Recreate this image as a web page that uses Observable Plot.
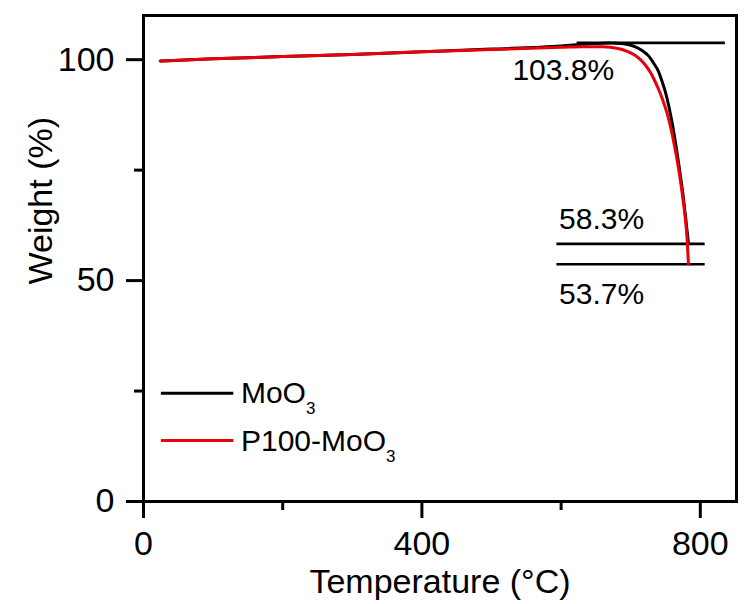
<!DOCTYPE html>
<html>
<head>
<meta charset="utf-8">
<script src="https://cdn.jsdelivr.net/npm/d3@7"></script>
<script src="https://cdn.jsdelivr.net/npm/@observablehq/plot@0.6"></script>
<style>
  html, body { margin: 0; padding: 0; background: #fff; }
  #chart svg { display: block; }
</style>
</head>
<body>
<div id="chart"></div>
<script>
// ---- data ----
const seriesNames = ["MoO3", "P100-MoO3"];
const seriesColors = ["#000000", "#e8000b"];

const moo3Temp = [24,100,200,300,400,500,600,640,670,690,705,718,726,733,740,745,750,755,760,765,770,775,779,783];
const moo3Weight = [99.7,100.2,100.7,101.2,101.8,102.4,103.1,103.6,103.8,103.6,103.0,101.9,100.8,99.2,97.3,95.1,92.6,89.3,85.3,80.6,75.3,69.6,64.2,58.3];

const p100Temp = [24,100,200,300,400,500,600,630,660,680,695,705,714,721,728,734,740,746,752,758,764,769,773,777,780.5,783];
const p100Weight = [99.7,100.2,100.7,101.2,101.8,102.3,102.8,102.95,102.9,102.6,101.9,101.1,100.0,98.8,97.2,95.4,93.3,90.9,88.0,84.3,79.6,75.1,70.9,66.0,60.5,53.7];

// reference levels (weight %) and their temperature spans
const refLevels = [103.8, 58.3, 53.7];
const refStart = [623, 594, 594];
const refEnd = [836, 807, 807];
const refLabels = ["103.8%", "58.3%", "53.7%"];
const refLabelTemp = [530, 597, 597];
const refLabelWeight = [95.5, 61.6, 44.8];

const xMajorTicks = [0, 400, 800];
const xMinorTicks = [200, 600];
const yMajorTicks = [0, 50, 100];
const yMinorTicks = [25, 75];

const xLabel = "Temperature (°C)";
const yLabel = "Weight (%)";

// ---- build tables ----
const moo3 = moo3Temp.map((t, i) => ({T: t, W: moo3Weight[i]}));
const p100 = p100Temp.map((t, i) => ({T: t, W: p100Weight[i]}));
const refs = refLevels.map((v, i) => ({v, x1: refStart[i], x2: refEnd[i]}));
const refText = refLabels.map((s, i) => ({s, T: refLabelTemp[i], W: refLabelWeight[i]}));
const legend = seriesNames.map((name, i) => ({name, color: seriesColors[i], i}));

const FONT = "Liberation Sans, Arial, Helvetica, sans-serif";

const chart = Plot.plot({
  width: 752,
  height: 604,
  marginLeft: 143,
  marginRight: 16,
  marginTop: 15,
  marginBottom: 103,
  style: {fontFamily: FONT, color: "#000", background: "#fff", overflow: "visible"},
  x: {domain: [0, 852], axis: null},
  y: {domain: [0, 110], axis: null},
  marks: [
    // reference lines
    Plot.ruleY(refs, {y: "v", x1: "x1", x2: "x2", stroke: "#000", strokeWidth: 2.6}),
    // curves
    Plot.line(moo3, {x: "T", y: "W", stroke: seriesColors[0], strokeWidth: 3, curve: "monotone-x"}),
    Plot.line(p100, {x: "T", y: "W", stroke: seriesColors[1], strokeWidth: 3, curve: "monotone-x"}),
    // annotations
    Plot.text(refText, {x: "T", y: "W", text: "s", textAnchor: "start", lineAnchor: "bottom", fontSize: 30, fill: "#000"}),
    // legend
    Plot.link(legend, {x1: () => 25, x2: () => 129, y1: d => d.i === 0 ? 24.5 : 13.8, y2: d => d.i === 0 ? 24.5 : 13.8, stroke: "color", strokeWidth: 3}),
    Plot.text(legend, {x: () => 140, y: d => d.i === 0 ? 22.2 : 11.4, text: "name", textAnchor: "start", lineAnchor: "bottom", fontSize: 30, fill: "#000"}),
    // axes
    Plot.axisX({ticks: xMajorTicks, tickSize: 17, tickPadding: 12, strokeWidth: 3, fontSize: 34, label: null, tickFormat: d => String(d)}),
    Plot.axisX({ticks: xMinorTicks, tickSize: 9, strokeWidth: 3, text: null, label: null}),
    Plot.axisY({ticks: yMajorTicks, tickSize: 17, tickPadding: 12, strokeWidth: 3, fontSize: 34, label: null, tickFormat: d => String(d)}),
    Plot.axisY({ticks: yMinorTicks, tickSize: 9, strokeWidth: 3, text: null, label: null}),
    Plot.frame({stroke: "#000", strokeWidth: 3}),
    // axis titles
    Plot.text([xLabel], {frameAnchor: "bottom", dy: 91, lineAnchor: "bottom", fontSize: 34, fill: "#000"}),
    Plot.text([yLabel], {frameAnchor: "left", rotate: -90, dx: -102, dy: 26, lineAnchor: "middle", fontSize: 34, fill: "#000"})
  ]
});

// subscript the "3" of MoO3 in the legend
const NS = "http://www.w3.org/2000/svg";
chart.querySelectorAll("text").forEach(t => {
  const target = t.querySelector("tspan") || t;
  const s = t.textContent;
  if (s.endsWith("MoO3")) {
    target.textContent = s.slice(0, -1);
    const ts = document.createElementNS(NS, "tspan");
    ts.setAttribute("dy", "11");
    ts.setAttribute("font-size", "17");
    ts.textContent = "3";
    target.appendChild(ts);
  }
});

document.getElementById("chart").appendChild(chart);
</script>
</body>
</html>
